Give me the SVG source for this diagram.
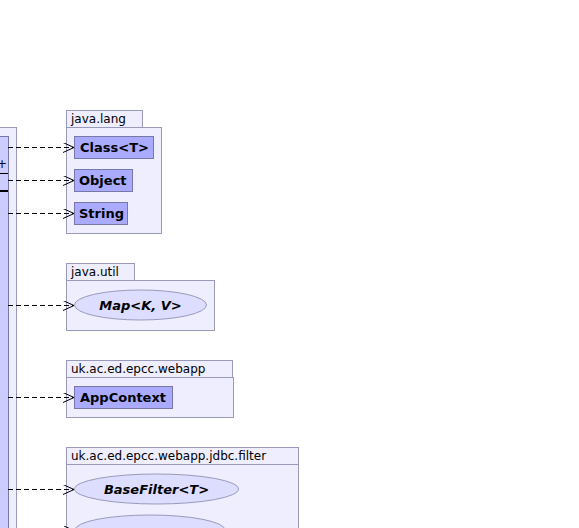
<svg xmlns="http://www.w3.org/2000/svg" width="579" height="528" viewBox="0 0 579 528">
<defs>
<marker id="open" markerWidth="12" markerHeight="10" refX="11" refY="5" orient="auto" markerUnits="userSpaceOnUse">
<path d="M0,0 L11,5 L0,10" fill="none" stroke="#000" stroke-width="1"/>
</marker>
</defs>
<style>
.pkg{fill:#EEEEFF;stroke:#9999BB;stroke-width:1}
.cls{fill:#AAAAFF;stroke:#7777AA;stroke-width:1}
.ell{fill:#DDDDFF;stroke:#9999BB;stroke-width:1}
.pl{font-family:"DejaVu Sans",sans-serif;font-size:12px;fill:#000}
.cn{font-family:"DejaVu Sans",sans-serif;font-size:13px;font-weight:bold;fill:#000}
.it{font-style:italic}
.dep{stroke:#000;stroke-width:1;stroke-dasharray:5,3;fill:none;marker-end:url(#open)}
</style>
<rect width="579" height="528" fill="#fff"/>
<g id="main">
<rect class="pkg" x="-10" y="127.5" width="26.5" height="420"/>
<rect x="-10" y="136.5" width="18.5" height="410" fill="#CCCCFF" stroke="#7777AA"/>
<text x="-3" y="168" class="pl">+</text>
<line x1="0" y1="173.5" x2="8" y2="173.5" stroke="#000"/>
<line x1="0" y1="191" x2="8" y2="191" stroke="#000" stroke-width="2"/>
</g>
<g id="java.lang">
<rect class="pkg" x="66.5" y="110.5" width="76" height="17"/>
<rect class="pkg" x="66.5" y="127.5" width="95" height="106"/>
<text x="71" y="123" class="pl">java.lang</text>
</g>
<g id="Class">
<rect class="cls" x="74.5" y="136.5" width="79" height="22"/>
<text x="80" y="152" class="cn">Class&lt;T&gt;</text>
</g>
<g id="Object">
<rect class="cls" x="74.5" y="169.5" width="58" height="22"/>
<text x="79" y="185" class="cn">Object</text>
</g>
<g id="String">
<rect class="cls" x="74.5" y="202.5" width="53" height="22"/>
<text x="79" y="218" class="cn">String</text>
</g>
<g id="java.util">
<rect class="pkg" x="66.5" y="263.5" width="68" height="17"/>
<rect class="pkg" x="66.5" y="280.5" width="148" height="50"/>
<text x="71" y="276" class="pl">java.util</text>
</g>
<g id="Map">
<ellipse class="ell" cx="140.5" cy="305" rx="66" ry="15"/>
<text x="140.5" y="310" class="cn it" text-anchor="middle">Map&lt;K, V&gt;</text>
</g>
<g id="webapp">
<rect class="pkg" x="66.5" y="360.5" width="166" height="17"/>
<rect class="pkg" x="66.5" y="377.5" width="167" height="40"/>
<text x="71" y="373" class="pl">uk.ac.ed.epcc.webapp</text>
</g>
<g id="AppContext">
<rect class="cls" x="74.5" y="386.5" width="98" height="22"/>
<text x="80" y="402" class="cn">AppContext</text>
</g>
<g id="filter">
<rect class="pkg" x="66.5" y="447.5" width="232" height="17"/>
<rect class="pkg" x="66.5" y="464.5" width="232" height="80"/>
<text x="71" y="460" class="pl">uk.ac.ed.epcc.webapp.jdbc.filter</text>
</g>
<g id="BaseFilter">
<ellipse class="ell" cx="156.5" cy="489" rx="82" ry="15"/>
<text x="156.5" y="494" class="cn it" text-anchor="middle">BaseFilter&lt;T&gt;</text>
</g>
<g id="Filter2">
<ellipse class="ell" cx="150" cy="530" rx="75" ry="15"/>
</g>
<g id="connectors">
<line class="dep" x1="8" y1="147.5" x2="74" y2="147.5"/>
<line class="dep" x1="8" y1="180.5" x2="74" y2="180.5"/>
<line class="dep" x1="8" y1="213.5" x2="74" y2="213.5"/>
<line class="dep" x1="8" y1="305.5" x2="74" y2="305.5"/>
<line class="dep" x1="8" y1="397.5" x2="74" y2="397.5"/>
<line class="dep" x1="8" y1="489.5" x2="74" y2="489.5"/>
<line class="dep" x1="8" y1="531" x2="75" y2="531"/>
</g>
</svg>
